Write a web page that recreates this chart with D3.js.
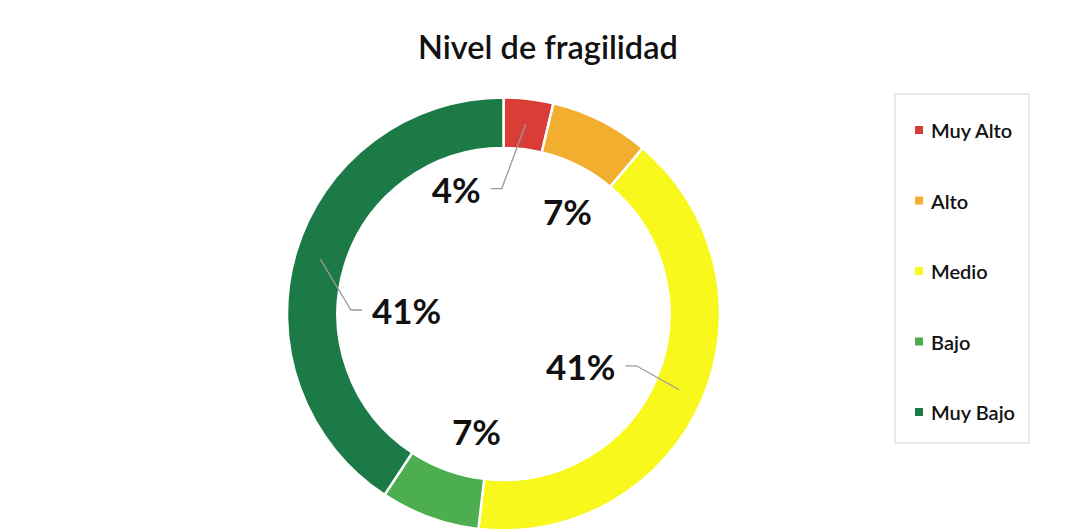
<!DOCTYPE html>
<html>
<head>
<meta charset="utf-8">
<script src="https://cdn.jsdelivr.net/npm/d3@7"></script>
<style>
  body { margin: 0; background: #fff; }
  text { font-family: Lato, "Open Sans", sans-serif; }
</style>
</head>
<body>
<div id="chart"></div>
<script>
// Data (counts per level).
const categories = ["Muy Alto", "Alto", "Medio", "Bajo", "Muy Bajo"];
const counts = [1, 2, 11, 2, 11];
const colors = ["#DA3C36", "#F1AE2F", "#F8F81C", "#4DAE50", "#1B7A46"];
const TITLE = "Nivel de fragilidad";

// Layout constants
const WIDTH = 1083;
const HEIGHT = 531;
const CENTER = { x: 503.5, y: 314 };
const OUTER_R = 216.5;
const INNER_R = 166;
// label placement: angle shift from slice middle (deg), radius, leader side
const LABEL_LAYOUT = [
  { shift: -27.3, r: 134, leader: "right" },
  { shift: 5.2, r: 121, leader: null },
  { shift: 10.5, r: 93, leader: "right" },
  { shift: -7, r: 120, leader: null },
  { shift: -14.3, r: 97, leader: "left" }
];

const svg = d3.select("#chart").append("svg")
  .attr("width", WIDTH)
  .attr("height", HEIGHT);

svg.append("rect").attr("width", WIDTH).attr("height", HEIGHT).attr("fill", "#fff");

svg.append("text")
  .attr("x", 548)
  .attr("y", 59)
  .attr("text-anchor", "middle")
  .attr("font-size", 32.5)
  .attr("font-weight", 600)
  .attr("fill", "#111")
  .text(TITLE);

const total = d3.sum(counts);
const pct = d3.format(".0%");
const data = categories.map((c, i) => ({ name: c, value: counts[i], color: colors[i] }));

const pie = d3.pie().value(d => d.value).sort(null);
const arc = d3.arc().innerRadius(INNER_R).outerRadius(OUTER_R);
const arcs = pie(data);

const g = svg.append("g").attr("transform", `translate(${CENTER.x},${CENTER.y})`);

g.selectAll("path.slice")
  .data(arcs)
  .join("path")
  .attr("class", "slice")
  .attr("d", arc)
  .attr("fill", d => d.data.color)
  .attr("stroke", "#fff")
  .attr("stroke-width", 2.5);

// polar helper, angle 0 at top, clockwise
const polar = (a, r) => [r * Math.sin(a), -r * Math.cos(a)];

const labels = g.selectAll("text.pct")
  .data(arcs)
  .join("text")
  .attr("class", "pct")
  .attr("text-anchor", "middle")
  .attr("dominant-baseline", "central")
  .attr("font-size", 35)
  .attr("font-weight", 700)
  .attr("fill", "#111")
  .each(function (d, i) {
    const lay = LABEL_LAYOUT[i];
    const mid = (d.startAngle + d.endAngle) / 2 + lay.shift * Math.PI / 180;
    const [x, y] = polar(mid, lay.r);
    d3.select(this).attr("x", x).attr("y", y);
  })
  .text(d => pct(d.value / total));

// leader lines
labels.each(function (d, i) {
  const lay = LABEL_LAYOUT[i];
  if (!lay.leader) return;
  const bb = this.getBBox();
  const cy = bb.y + bb.height / 2;
  const mid = (d.startAngle + d.endAngle) / 2;
  const start = polar(mid, (INNER_R + OUTER_R) / 2);
  const end = lay.leader === "right" ? bb.x + bb.width + 10 : bb.x - 10;
  const elbow = lay.leader === "right" ? end + 11 : end - 11;
  g.append("polyline")
    .attr("points", [[end, cy], [elbow, cy], start].map(p => p.join(",")).join(" "))
    .attr("fill", "none")
    .attr("stroke", "#9a9a9a")
    .attr("stroke-width", 1.3);
});

// legend
const legend = svg.append("g").attr("transform", "translate(895,94)");
legend.append("rect")
  .attr("width", 134)
  .attr("height", 349)
  .attr("fill", "#fff")
  .attr("stroke", "#d4d4d4");

const item = legend.selectAll("g.item")
  .data(data)
  .join("g")
  .attr("class", "item")
  .attr("transform", (d, i) => `translate(0,${36 + i * 70.5})`);

item.append("rect")
  .attr("x", 20)
  .attr("y", -4)
  .attr("width", 8)
  .attr("height", 8)
  .attr("fill", d => d.color);

item.append("text")
  .attr("x", 36)
  .attr("dominant-baseline", "central")
  .attr("font-size", 20)
  .attr("font-weight", 600)
  .attr("fill", "#111")
  .text(d => d.name);
</script>
</body>
</html>
